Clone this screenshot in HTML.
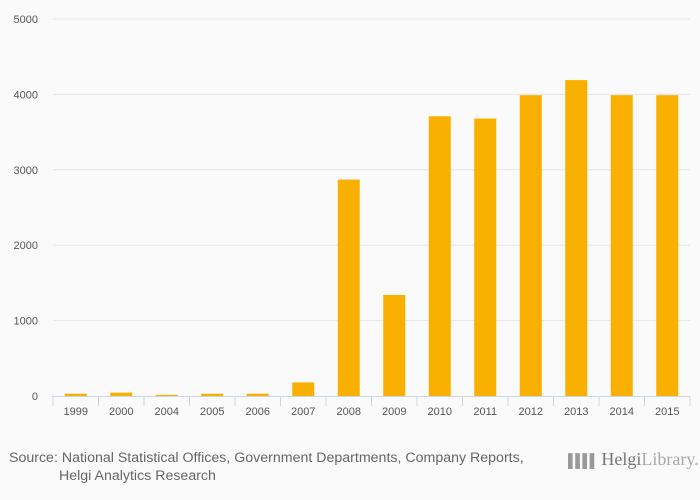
<!DOCTYPE html>
<html><head><meta charset="utf-8"><style>
body{margin:0;background:#fafafa;font-family:"Liberation Sans","DejaVu Sans",sans-serif;}
#wrap{position:relative;width:700px;height:500px;background:#fafafa;}
.src{position:absolute;left:9px;top:449px;font-size:14.2px;color:#666;line-height:18px;white-space:nowrap;}
</style></head><body>
<div id="wrap">
<svg id="chart" width="700" height="440"></svg>
<div class="src">Source: National Statistical Offices, Government Departments, Company Reports,<br><span style="padding-left:50px">Helgi Analytics Research</span></div>
<div style="position:absolute;left:568px;top:449px;white-space:nowrap;font-family:'Liberation Serif',serif;font-size:18px;color:#888;">
<span style="font-size:13px;letter-spacing:-2px;color:#999">▌▌▌▌</span> <span style="color:#777">Helgi</span><span style="color:#aaa">Library.</span></div>
</div>
<script>
const categories=["1999","2000","2004","2005","2006","2007","2008","2009","2010","2011","2012","2013","2014","2015"];
const values=[30,45,15,30,30,180,2870,1340,3710,3680,3990,4190,3990,3990];
const yTicks=[0,1000,2000,3000,4000,5000];
const svg=document.getElementById('chart');
const NS='http://www.w3.org/2000/svg';
const x0=53,x1=690,y0=396,yTop=19,yMax=5000;
const band=(x1-x0)/categories.length;
const y=v=>y0-(v/yMax)*(y0-yTop);
const xc=i=>x0+band*(i+0.5);
function mk(t,a){const e=document.createElementNS(NS,t);for(const k in a)e.setAttribute(k,a[k]);svg.appendChild(e);return e;}
yTicks.forEach(t=>{
 if(t>0){const g=mk('line',{x1:x0,x2:x1,y1:y(t),y2:y(t),stroke:'#e6e6e6'});
 
 }
 const l=mk('text',{x:38,y:y(t)+4,'text-anchor':'end','font-size':'11','fill':'#555'});l.textContent=t;
 
 
});
const ax=mk('line',{x1:x0,x2:x1,y1:y0+0.5,y2:y0+0.5,stroke:'#ccd6eb'});


for(let i=0;i<=categories.length;i++){
 const tk=mk('line',{x1:x0+band*i,x2:x0+band*i,y1:y0,y2:y0+10,stroke:'#ccd6eb'});
 
 
}
categories.forEach((c,i)=>{
 const w=22;
 const r=mk('rect',{x:xc(i)-w/2,y:y(values[i]),width:w,height:y0-y(values[i]),fill:'#f9b000'});
 
 
 const l=mk('text',{x:xc(i),y:415,'text-anchor':'middle','font-size':'11','fill':'#555'});l.textContent=c;
 
 
});
</script>
</body></html>
